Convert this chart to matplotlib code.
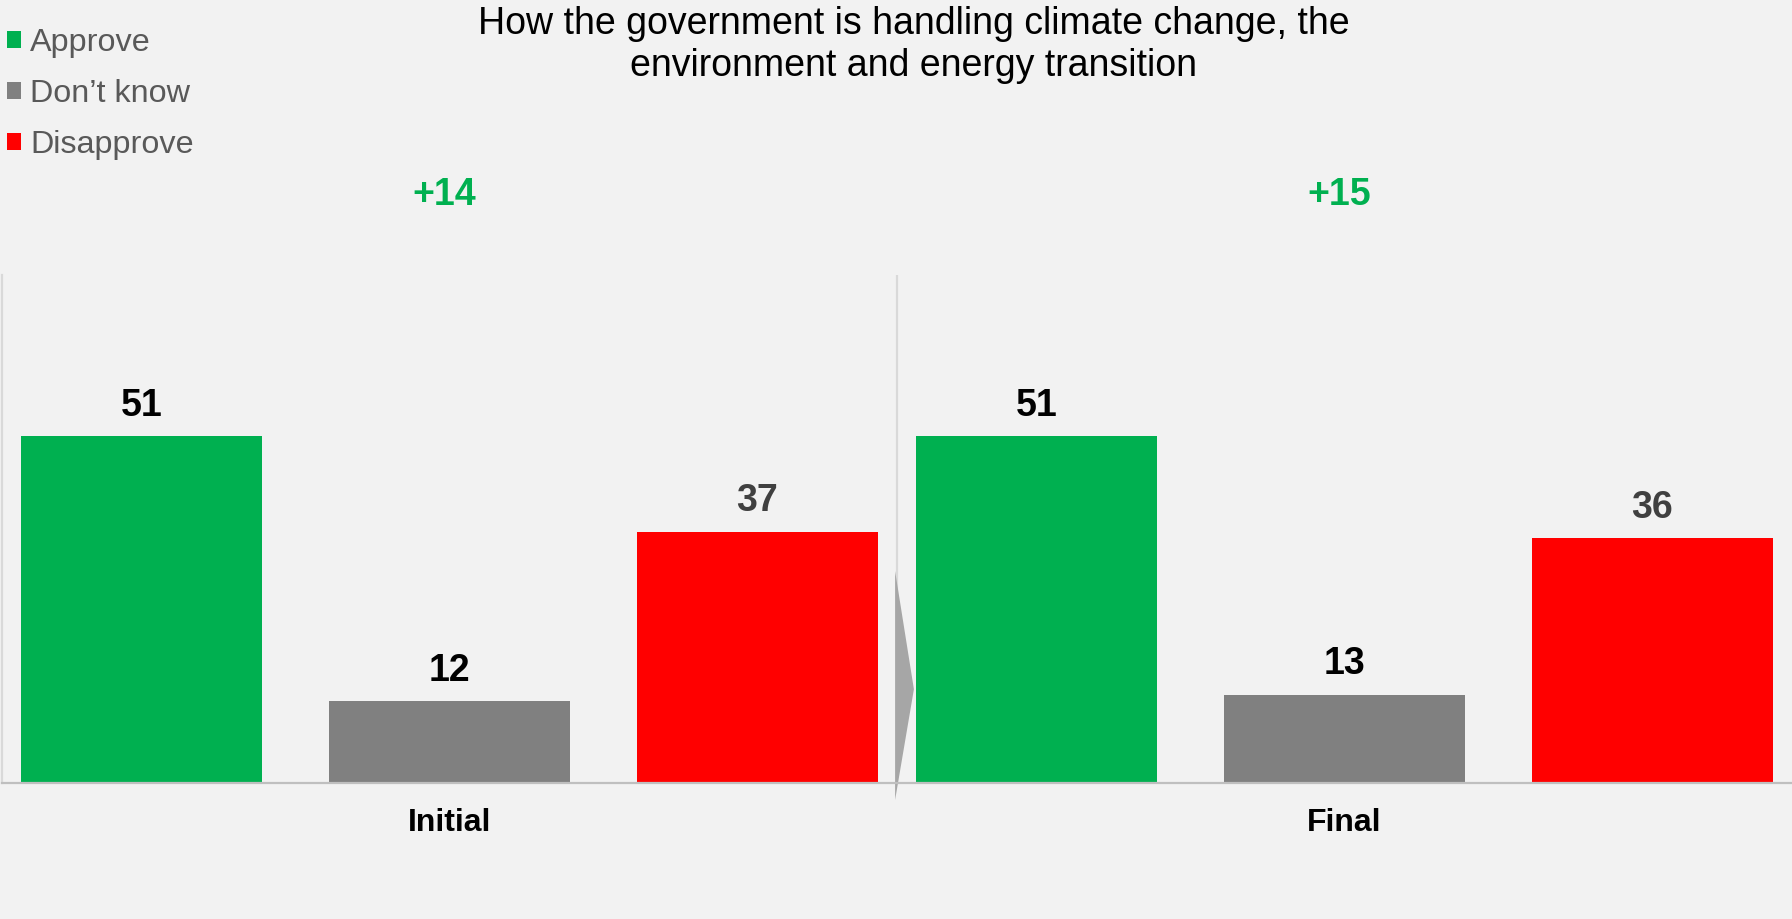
import numpy as np
import matplotlib
matplotlib.use("Agg")
import matplotlib.pyplot as plt
from matplotlib.patches import Polygon

plt.rcParams['font.family'] = ['Liberation Sans', 'DejaVu Sans']

# survey results, % of respondents
categories = ["Initial", "Final"]
series_names = ["Approve", "Don\u2019t know", "Disapprove"]
approve = [51, 51]
dont_know = [12, 13]
disapprove = [37, 36]

colors = ["#00b050", "#808080", "#ff0000"]
label_colors = ["#000000", "#000000", "#404040"]
bg = "#f2f2f2"

fig = plt.figure(figsize=(17.92, 9.19), dpi=100, facecolor=bg)
ax = fig.add_axes([0.001, 0.148, 0.999, 0.553])
ax.set_facecolor(bg)

x = np.arange(len(categories))
width = 0.269
offsets = [-0.344, 0.0, 0.344]

for vals, name, off, col, lcol in zip([approve, dont_know, disapprove], series_names,
                                      offsets, colors, label_colors):
    bars = ax.bar(x + off, vals, width, color=col, label=name, zorder=2)
    for b, v in zip(bars, vals):
        ax.annotate(str(v), (b.get_x() + b.get_width() / 2, v), xytext=(0, 22),
                    textcoords="offset points", ha="center", va="center",
                    fontsize=27, fontweight="bold", color=lcol)

ax.set_xlim(-0.5, 1.5)
ax.set_ylim(0, 74.8)

# net approval above each group
for xi, a, d in zip(x, approve, disapprove):
    ax.text(xi - 0.006, 1.157, f"+{a - d}", transform=ax.get_xaxis_transform(),
            ha="center", va="center", fontsize=27, fontweight="bold", color="#00b050")

# divider between the two waves with a small chevron
ax.axvline(0.5, color="#d9d9d9", lw=1.6, zorder=1)
ax.add_patch(Polygon([[0.498, 31.2], [0.519, 13.8], [0.498, -2.5]], closed=True,
                     facecolor="#a6a6a6", edgecolor="none", clip_on=False, zorder=3))

for s in ["top", "right"]:
    ax.spines[s].set_visible(False)
ax.spines["left"].set_color("#d9d9d9")
ax.spines["left"].set_linewidth(1.6)
ax.spines["bottom"].set_color("#bfbfbf")
ax.spines["bottom"].set_linewidth(1.6)
ax.spines["bottom"].set_zorder(4)

ax.set_yticks([])
ax.set_xticks(x)
ax.set_xticklabels(categories, fontsize=23, fontweight="bold")
ax.tick_params(axis="x", length=0, pad=18)

fig.text(0.51, 0.951, "How the government is handling climate change, the\nenvironment and energy transition",
         ha="center", va="center", fontsize=27, color="#000000", linespacing=1.2)

ax.legend(loc="upper left", bbox_to_anchor=(0.0038, 0.9695), bbox_transform=fig.transFigure,
          frameon=False, fontsize=23.3, handlelength=0.43, handleheight=0.43,
          handletextpad=0.3, labelspacing=0.645, borderpad=0, borderaxespad=0,
          labelcolor="#595959")

fig.savefig("out.png", dpi=100, facecolor=bg)
